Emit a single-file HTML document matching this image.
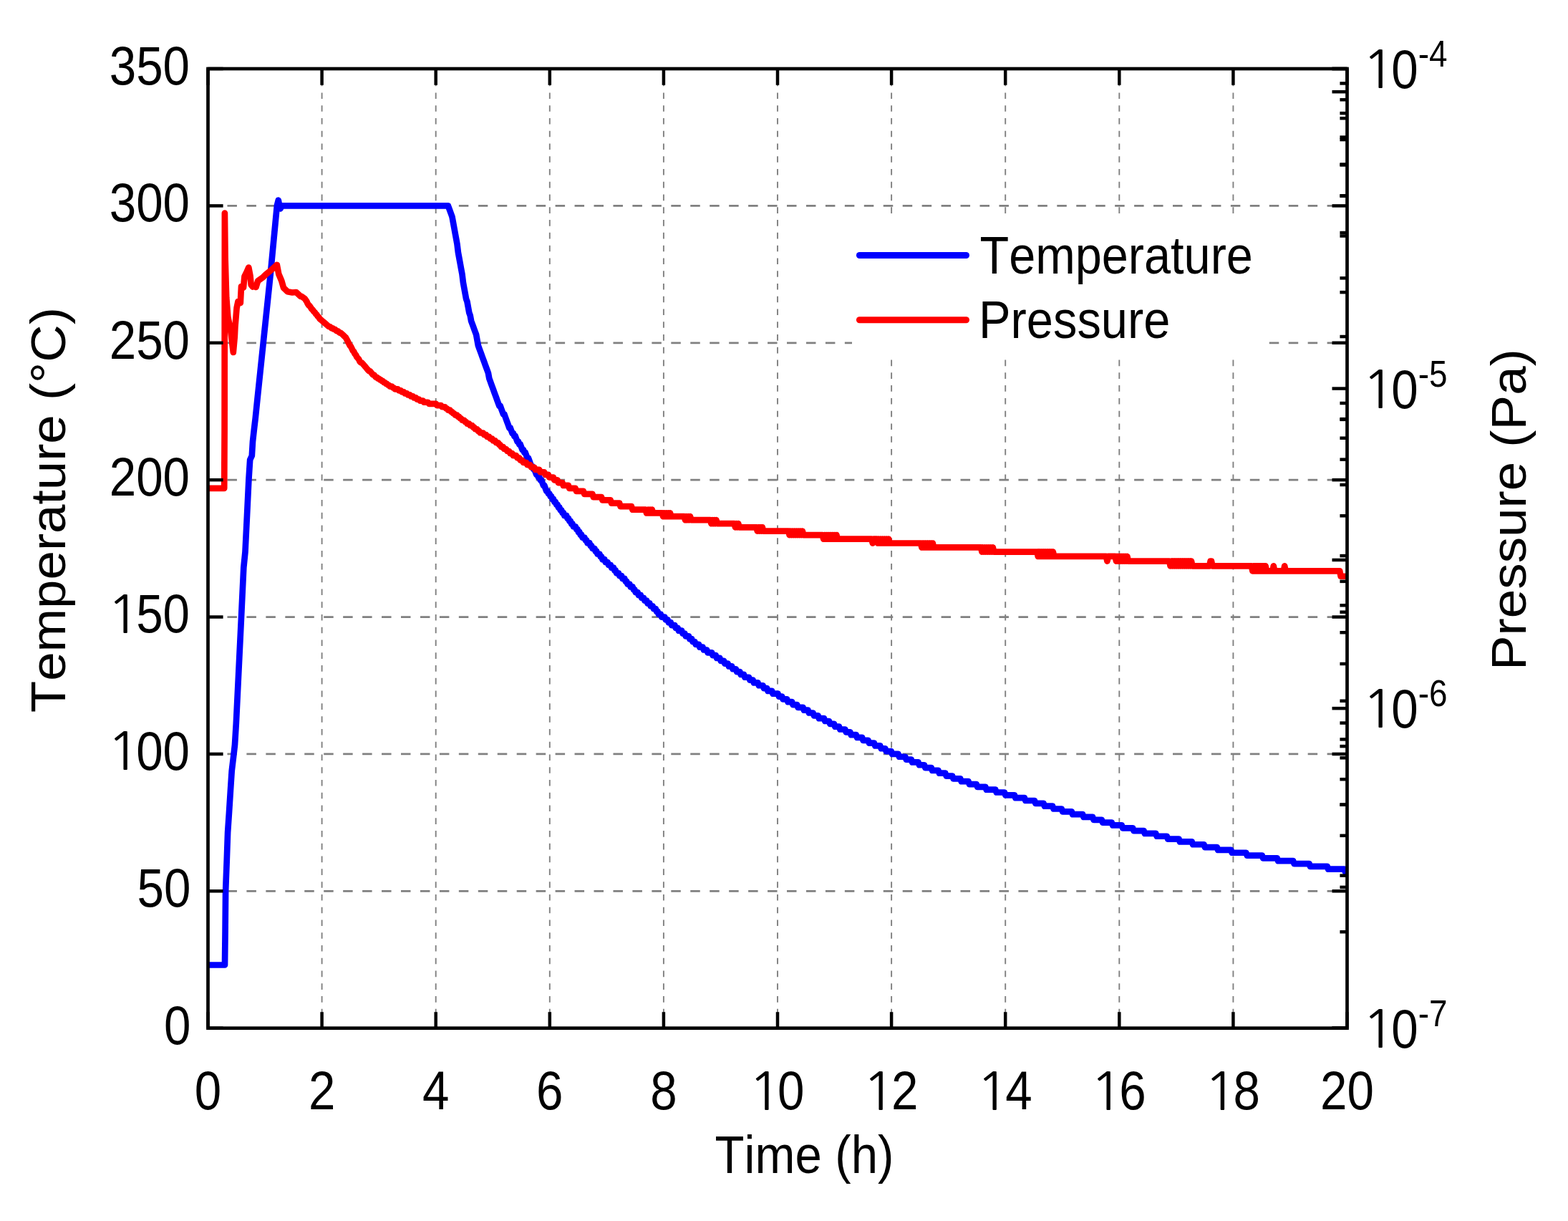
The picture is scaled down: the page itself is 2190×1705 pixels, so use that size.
<!DOCTYPE html>
<html><head><meta charset="utf-8"><title>Temperature and Pressure vs Time</title>
<style>html,body{margin:0;padding:0;background:#fff;width:2190px;height:1705px;overflow:hidden}svg{display:block}</style>
</head><body><svg width="2190" height="1705" viewBox="0 0 2190 1705"><g stroke="#808080" stroke-width="2.75" stroke-dasharray="13.5 13.45" fill="none"><line x1="290.5" y1="1244.31" x2="1881.5" y2="1244.31"/><line x1="290.5" y1="1052.93" x2="1881.5" y2="1052.93"/><line x1="290.5" y1="861.54" x2="1881.5" y2="861.54"/><line x1="290.5" y1="670.16" x2="1881.5" y2="670.16"/><line x1="290.5" y1="478.77" x2="1881.5" y2="478.77"/><line x1="290.5" y1="287.39" x2="1881.5" y2="287.39"/></g><g stroke="#808080" stroke-width="1.9" stroke-dasharray="8.6 9.17" stroke-dashoffset="2.14" fill="none"><line x1="449.6" y1="96" x2="449.6" y2="1435.7"/><line x1="608.7" y1="96" x2="608.7" y2="1435.7"/><line x1="767.8" y1="96" x2="767.8" y2="1435.7"/><line x1="926.9" y1="96" x2="926.9" y2="1435.7"/><line x1="1086" y1="96" x2="1086" y2="1435.7"/><line x1="1245.1" y1="96" x2="1245.1" y2="1435.7"/><line x1="1404.2" y1="96" x2="1404.2" y2="1435.7"/><line x1="1563.3" y1="96" x2="1563.3" y2="1435.7"/><line x1="1722.4" y1="96" x2="1722.4" y2="1435.7"/></g><rect x="1190" y="301" width="576" height="197" fill="#fff"/><defs><clipPath id="pc"><rect x="290.5" y="86" width="1591" height="1349.7"/></clipPath></defs><g clip-path="url(#pc)" fill="none" stroke-width="8.7" stroke-linejoin="round" stroke-linecap="round"><polyline stroke="#0000ff" points="283,1347.5 314,1347.5 314.6,1300 315.1,1244.7 316.8,1200 318.1,1162.4 320,1134.2 321.8,1105.9 323.7,1076.7 326.5,1053.2 328,1040 329.8,1010.4 337,862.2 340.3,792.5 342.5,770.7 345,720 347.4,670 349.2,642 351.8,636.5 353,616.4 354.9,599.5 356.8,583.5 359.2,560 367.7,479 377.8,382.5 386.9,287 388.8,279.6 390.3,287.5 391.6,291.3 393.5,287.4 624.5,287.39 625.9,287.39 627.3,291.21 628.7,295.04 630.1,298.87 631.5,302.7 632.9,310.35 634.3,318.01 635.7,325.66 637.1,333.32 638.5,340.97 639.9,352.46 641.3,360.11 642.7,367.77 644.1,375.42 645.5,383.08 646.9,394.56 648.3,402.22 649.7,409.87 651.1,417.53 652.5,421.36 653.9,429.01 655.3,436.67 656.7,440.49 658.1,448.15 659.5,451.98 660.9,455.81 662.3,459.63 663.7,463.46 665.1,467.29 666.5,474.94 667.9,482.6 669.3,486.43 670.7,490.25 672.1,494.08 673.5,497.91 674.9,501.74 676.3,505.57 677.7,509.39 679.1,513.22 680.5,517.05 681.9,520.88 683.3,528.53 684.7,532.36 686.1,536.19 687.5,540.01 688.9,543.84 690.3,547.67 691.7,551.5 693.1,555.33 694.5,559.15 695.9,562.98 697.3,566.81 698.7,566.81 700.1,570.64 701.5,574.46 702.9,578.29 704.3,578.29 705.7,582.12 707.1,585.95 708.5,589.78 709.9,593.6 711.3,597.43 712.7,597.43 714.1,601.26 715.5,605.09 716.9,605.09 718.3,608.91 719.7,608.91 721.1,612.74 722.5,616.57 723.9,616.57 725.3,620.4 726.7,620.4 728.1,624.22 729.5,628.05 730.9,628.05 732.3,631.88 733.7,631.88 735.1,635.71 736.5,639.54 737.9,639.54 739.3,643.36 740.7,647.19 742.1,651.02 743.5,651.02 744.9,654.85 746.3,654.85 747.7,658.67 749.1,662.5 750.5,662.5 751.9,666.33 753.3,666.33 754.7,670.16 756.1,670.16 757.5,673.98 758.9,677.81 760.3,677.81 761.7,681.64 763.1,685.47 764.5,685.47 765.9,689.3 767.3,689.3 768.7,693.12 770.1,693.12 771.5,696.95 772.9,696.95 774.3,700.78 775.7,700.78 777.1,704.61 778.5,704.61 779.9,708.43 781.3,708.43 782.7,712.26 784.1,712.26 785.5,716.09 786.9,716.09 788.3,719.92 789.7,719.92 791.1,719.92 792.5,723.75 793.9,723.75 795.3,727.57 796.7,727.57 798.1,731.4 799.5,731.4 800.9,735.23 802.3,735.23 803.7,735.23 805.1,739.06 806.5,739.06 807.9,742.88 809.3,742.88 810.7,746.71 812.1,746.71 813.5,750.54 814.9,750.54 816.3,750.54 817.7,754.37 819.1,754.37 820.5,758.19 821.9,758.19 823.3,758.19 824.7,762.02 826.1,762.02 827.5,765.85 828.9,765.85 830.3,765.85 831.7,769.68 833.1,769.68 834.5,773.51 835.9,773.51 837.3,773.51 838.7,777.33 840.1,777.33 841.5,781.16 842.9,781.16 844.3,781.16 845.7,784.99 847.1,784.99 848.5,784.99 849.9,788.82 851.3,788.82 852.7,788.82 854.1,792.64 855.5,792.64 856.9,792.64 858.3,796.47 859.7,796.47 861.1,800.3 862.5,800.3 863.9,800.3 865.3,804.13 866.7,804.13 868.1,804.13 869.5,807.95 870.9,807.95 872.3,807.95 873.7,811.78 875.1,811.78 876.5,815.61 877.9,815.61 879.3,815.61 880.7,819.44 882.1,819.44 883.5,819.44 884.9,823.27 886.3,823.27 887.7,827.09 889.1,827.09 890.5,827.09 891.9,830.92 893.3,830.92 894.7,830.92 896.1,834.75 897.5,834.75 898.9,834.75 900.3,838.58 901.7,838.58 903.1,838.58 904.5,842.4 905.9,842.4 907.3,842.4 908.7,846.23 910.1,846.23 911.5,846.23 912.9,850.06 914.3,850.06 915.7,850.06 917.1,853.89 918.5,853.89 919.9,857.72 921.3,857.72 922.7,857.72 924.1,861.54 925.5,861.54 926.9,861.54 928.3,861.54 929.7,865.37 931.1,865.37 932.5,865.37 933.9,869.2 935.3,869.2 936.7,869.2 938.1,873.03 939.5,873.03 940.9,873.03 942.3,873.03 943.7,876.85 945.1,876.85 946.5,876.85 947.9,880.68 949.3,880.68 950.7,880.68 952.1,880.68 953.5,884.51 954.9,884.51 956.3,884.51 957.7,888.34 959.1,888.34 960.5,888.34 961.9,888.34 963.3,892.16 964.7,892.16 966.1,892.16 967.5,895.99 968.9,895.99 970.3,895.99 971.7,899.82 973.1,899.82 974.5,899.82 975.9,899.82 977.3,903.65 978.7,903.65 980.1,903.65 981.5,903.65 982.9,907.48 984.3,907.48 985.7,907.48 987.1,907.48 988.5,911.3 989.9,911.3 991.3,911.3 992.7,911.3 994.1,911.3 995.5,915.13 996.9,915.13 998.3,915.13 999.7,915.13 1001.1,918.96 1002.5,918.96 1003.9,918.96 1005.3,918.96 1006.7,922.79 1008.1,922.79 1009.5,922.79 1010.9,922.79 1012.3,926.61 1013.7,926.61 1015.1,926.61 1016.5,926.61 1017.9,930.44 1019.3,930.44 1020.7,930.44 1022.1,930.44 1023.5,934.27 1024.9,934.27 1026.3,934.27 1027.7,934.27 1029.1,938.1 1030.5,938.1 1031.9,938.1 1033.3,938.1 1034.7,941.92 1036.1,941.92 1037.5,941.92 1038.9,941.92 1040.3,945.75 1041.7,945.75 1043.1,945.75 1044.5,945.75 1045.9,945.75 1047.3,949.58 1048.7,949.58 1050.1,949.58 1051.5,949.58 1052.9,953.41 1054.3,953.41 1055.7,953.41 1057.1,953.41 1058.5,953.41 1059.9,957.24 1061.3,957.24 1062.7,957.24 1064.1,957.24 1065.5,957.24 1066.9,961.06 1068.3,961.06 1069.7,961.06 1071.1,961.06 1072.5,964.89 1073.9,964.89 1075.3,964.89 1076.7,964.89 1078.1,964.89 1079.5,968.72 1080.9,968.72 1082.3,968.72 1083.7,968.72 1085.1,968.72 1086.5,968.72 1087.9,972.55 1089.3,972.55 1090.7,972.55 1092.1,972.55 1093.5,976.37 1094.9,976.37 1096.3,976.37 1097.7,976.37 1099.1,976.37 1100.5,980.2 1101.9,980.2 1103.3,980.2 1104.7,980.2 1106.1,980.2 1107.5,984.03 1108.9,984.03 1110.3,984.03 1111.7,984.03 1113.1,984.03 1114.5,987.86 1115.9,987.86 1117.3,987.86 1118.7,987.86 1120.1,987.86 1121.5,987.86 1122.9,991.69 1124.3,991.69 1125.7,991.69 1127.1,991.69 1128.5,991.69 1129.9,995.51 1131.3,995.51 1132.7,995.51 1134.1,995.51 1135.5,995.51 1136.9,999.34 1138.3,999.34 1139.7,999.34 1141.1,999.34 1142.5,999.34 1143.9,1003.17 1145.3,1003.17 1146.7,1003.17 1148.1,1003.17 1149.5,1003.17 1150.9,1003.17 1152.3,1007 1153.7,1007 1155.1,1007 1156.5,1007 1157.9,1007 1159.3,1010.82 1160.7,1010.82 1162.1,1010.82 1163.5,1010.82 1164.9,1010.82 1166.3,1014.65 1167.7,1014.65 1169.1,1014.65 1170.5,1014.65 1171.9,1014.65 1173.3,1018.48 1174.7,1018.48 1176.1,1018.48 1177.5,1018.48 1178.9,1018.48 1180.3,1018.48 1181.7,1022.31 1183.1,1022.31 1184.5,1022.31 1185.9,1022.31 1187.3,1022.31 1188.7,1026.13 1190.1,1026.13 1191.5,1026.13 1192.9,1026.13 1194.3,1026.13 1195.7,1026.13 1197.1,1029.96 1198.5,1029.96 1199.9,1029.96 1201.3,1029.96 1202.7,1029.96 1204.1,1029.96 1205.5,1033.79 1206.9,1033.79 1208.3,1033.79 1209.7,1033.79 1211.1,1033.79 1212.5,1033.79 1213.9,1037.62 1215.3,1037.62 1216.7,1037.62 1218.1,1037.62 1219.5,1037.62 1220.9,1037.62 1222.3,1041.45 1223.7,1041.45 1225.1,1041.45 1226.5,1041.45 1227.9,1041.45 1229.3,1041.45 1230.7,1045.27 1232.1,1045.27 1233.5,1045.27 1234.9,1045.27 1236.3,1045.27 1237.7,1049.1 1239.1,1049.1 1240.5,1049.1 1241.9,1049.1 1243.3,1049.1 1244.7,1049.1 1246.1,1052.93 1247.5,1052.93 1248.9,1052.93 1250.3,1052.93 1251.7,1052.93 1253.1,1052.93 1254.5,1052.93 1255.9,1056.76 1257.3,1056.76 1258.7,1056.76 1260.1,1056.76 1261.5,1056.76 1262.9,1056.76 1264.3,1056.76 1265.7,1060.58 1267.1,1060.58 1268.5,1060.58 1269.9,1060.58 1271.3,1060.58 1272.7,1060.58 1274.1,1064.41 1275.5,1064.41 1276.9,1064.41 1278.3,1064.41 1279.7,1064.41 1281.1,1064.41 1282.5,1064.41 1283.9,1068.24 1285.3,1068.24 1286.7,1068.24 1288.1,1068.24 1289.5,1068.24 1290.9,1068.24 1292.3,1072.07 1293.7,1072.07 1295.1,1072.07 1296.5,1072.07 1297.9,1072.07 1299.3,1072.07 1300.7,1072.07 1302.1,1075.89 1303.5,1075.89 1304.9,1075.89 1306.3,1075.89 1307.7,1075.89 1309.1,1075.89 1310.5,1075.89 1311.9,1079.72 1313.3,1079.72 1314.7,1079.72 1316.1,1079.72 1317.5,1079.72 1318.9,1079.72 1320.3,1079.72 1321.7,1083.55 1323.1,1083.55 1324.5,1083.55 1325.9,1083.55 1327.3,1083.55 1328.7,1083.55 1330.1,1083.55 1331.5,1087.38 1332.9,1087.38 1334.3,1087.38 1335.7,1087.38 1337.1,1087.38 1338.5,1087.38 1339.9,1087.38 1341.3,1087.38 1342.7,1091.21 1344.1,1091.21 1345.5,1091.21 1346.9,1091.21 1348.3,1091.21 1349.7,1091.21 1351.1,1091.21 1352.5,1091.21 1353.9,1095.03 1355.3,1095.03 1356.7,1095.03 1358.1,1095.03 1359.5,1095.03 1360.9,1095.03 1362.3,1095.03 1363.7,1095.03 1365.1,1098.86 1366.5,1098.86 1367.9,1098.86 1369.3,1098.86 1370.7,1098.86 1372.1,1098.86 1373.5,1098.86 1374.9,1098.86 1376.3,1098.86 1377.7,1102.69 1379.1,1102.69 1380.5,1102.69 1381.9,1102.69 1383.3,1102.69 1384.7,1102.69 1386.1,1102.69 1387.5,1102.69 1388.9,1102.69 1390.3,1102.69 1391.7,1106.52 1393.1,1106.52 1394.5,1106.52 1395.9,1106.52 1397.3,1106.52 1398.7,1106.52 1400.1,1106.52 1401.5,1106.52 1402.9,1106.52 1404.3,1110.34 1405.7,1110.34 1407.1,1110.34 1408.5,1110.34 1409.9,1110.34 1411.3,1110.34 1412.7,1110.34 1414.1,1110.34 1415.5,1110.34 1416.9,1110.34 1418.3,1114.17 1419.7,1114.17 1421.1,1114.17 1422.5,1114.17 1423.9,1114.17 1425.3,1114.17 1426.7,1114.17 1428.1,1114.17 1429.5,1114.17 1430.9,1114.17 1432.3,1118 1433.7,1118 1435.1,1118 1436.5,1118 1437.9,1118 1439.3,1118 1440.7,1118 1442.1,1118 1443.5,1118 1444.9,1118 1446.3,1121.83 1447.7,1121.83 1449.1,1121.83 1450.5,1121.83 1451.9,1121.83 1453.3,1121.83 1454.7,1121.83 1456.1,1121.83 1457.5,1121.83 1458.9,1125.66 1460.3,1125.66 1461.7,1125.66 1463.1,1125.66 1464.5,1125.66 1465.9,1125.66 1467.3,1125.66 1468.7,1125.66 1470.1,1125.66 1471.5,1129.48 1472.9,1129.48 1474.3,1129.48 1475.7,1129.48 1477.1,1129.48 1478.5,1129.48 1479.9,1129.48 1481.3,1129.48 1482.7,1129.48 1484.1,1133.31 1485.5,1133.31 1486.9,1133.31 1488.3,1133.31 1489.7,1133.31 1491.1,1133.31 1492.5,1133.31 1493.9,1133.31 1495.3,1133.31 1496.7,1133.31 1498.1,1137.14 1499.5,1137.14 1500.9,1137.14 1502.3,1137.14 1503.7,1137.14 1505.1,1137.14 1506.5,1137.14 1507.9,1137.14 1509.3,1137.14 1510.7,1137.14 1512.1,1137.14 1513.5,1140.97 1514.9,1140.97 1516.3,1140.97 1517.7,1140.97 1519.1,1140.97 1520.5,1140.97 1521.9,1140.97 1523.3,1140.97 1524.7,1140.97 1526.1,1140.97 1527.5,1144.79 1528.9,1144.79 1530.3,1144.79 1531.7,1144.79 1533.1,1144.79 1534.5,1144.79 1535.9,1144.79 1537.3,1144.79 1538.7,1144.79 1540.1,1148.62 1541.5,1148.62 1542.9,1148.62 1544.3,1148.62 1545.7,1148.62 1547.1,1148.62 1548.5,1148.62 1549.9,1148.62 1551.3,1148.62 1552.7,1148.62 1554.1,1152.45 1555.5,1152.45 1556.9,1152.45 1558.3,1152.45 1559.7,1152.45 1561.1,1152.45 1562.5,1152.45 1563.9,1152.45 1565.3,1152.45 1566.7,1152.45 1568.1,1156.28 1569.5,1156.28 1570.9,1156.28 1572.3,1156.28 1573.7,1156.28 1575.1,1156.28 1576.5,1156.28 1577.9,1156.28 1579.3,1156.28 1580.7,1156.28 1582.1,1156.28 1583.5,1160.1 1584.9,1160.1 1586.3,1160.1 1587.7,1160.1 1589.1,1160.1 1590.5,1160.1 1591.9,1160.1 1593.3,1160.1 1594.7,1160.1 1596.1,1160.1 1597.5,1160.1 1598.9,1163.93 1600.3,1163.93 1601.7,1163.93 1603.1,1163.93 1604.5,1163.93 1605.9,1163.93 1607.3,1163.93 1608.7,1163.93 1610.1,1163.93 1611.5,1163.93 1612.9,1163.93 1614.3,1163.93 1615.7,1167.76 1617.1,1167.76 1618.5,1167.76 1619.9,1167.76 1621.3,1167.76 1622.7,1167.76 1624.1,1167.76 1625.5,1167.76 1626.9,1167.76 1628.3,1167.76 1629.7,1167.76 1631.1,1171.59 1632.5,1171.59 1633.9,1171.59 1635.3,1171.59 1636.7,1171.59 1638.1,1171.59 1639.5,1171.59 1640.9,1171.59 1642.3,1171.59 1643.7,1171.59 1645.1,1171.59 1646.5,1171.59 1647.9,1175.42 1649.3,1175.42 1650.7,1175.42 1652.1,1175.42 1653.5,1175.42 1654.9,1175.42 1656.3,1175.42 1657.7,1175.42 1659.1,1175.42 1660.5,1175.42 1661.9,1175.42 1663.3,1175.42 1664.7,1175.42 1666.1,1179.24 1667.5,1179.24 1668.9,1179.24 1670.3,1179.24 1671.7,1179.24 1673.1,1179.24 1674.5,1179.24 1675.9,1179.24 1677.3,1179.24 1678.7,1179.24 1680.1,1179.24 1681.5,1179.24 1682.9,1183.07 1684.3,1183.07 1685.7,1183.07 1687.1,1183.07 1688.5,1183.07 1689.9,1183.07 1691.3,1183.07 1692.7,1183.07 1694.1,1183.07 1695.5,1183.07 1696.9,1183.07 1698.3,1183.07 1699.7,1183.07 1701.1,1186.9 1702.5,1186.9 1703.9,1186.9 1705.3,1186.9 1706.7,1186.9 1708.1,1186.9 1709.5,1186.9 1710.9,1186.9 1712.3,1186.9 1713.7,1186.9 1715.1,1186.9 1716.5,1186.9 1717.9,1186.9 1719.3,1186.9 1720.7,1190.73 1722.1,1190.73 1723.5,1190.73 1724.9,1190.73 1726.3,1190.73 1727.7,1190.73 1729.1,1190.73 1730.5,1190.73 1731.9,1190.73 1733.3,1190.73 1734.7,1190.73 1736.1,1190.73 1737.5,1190.73 1738.9,1190.73 1740.3,1190.73 1741.7,1194.55 1743.1,1194.55 1744.5,1194.55 1745.9,1194.55 1747.3,1194.55 1748.7,1194.55 1750.1,1194.55 1751.5,1194.55 1752.9,1194.55 1754.3,1194.55 1755.7,1194.55 1757.1,1194.55 1758.5,1194.55 1759.9,1194.55 1761.3,1194.55 1762.7,1194.55 1764.1,1198.38 1765.5,1198.38 1766.9,1198.38 1768.3,1198.38 1769.7,1198.38 1771.1,1198.38 1772.5,1198.38 1773.9,1198.38 1775.3,1198.38 1776.7,1198.38 1778.1,1198.38 1779.5,1198.38 1780.9,1198.38 1782.3,1198.38 1783.7,1198.38 1785.1,1202.21 1786.5,1202.21 1787.9,1202.21 1789.3,1202.21 1790.7,1202.21 1792.1,1202.21 1793.5,1202.21 1794.9,1202.21 1796.3,1202.21 1797.7,1202.21 1799.1,1202.21 1800.5,1202.21 1801.9,1202.21 1803.3,1202.21 1804.7,1202.21 1806.1,1202.21 1807.5,1206.04 1808.9,1206.04 1810.3,1206.04 1811.7,1206.04 1813.1,1206.04 1814.5,1206.04 1815.9,1206.04 1817.3,1206.04 1818.7,1206.04 1820.1,1206.04 1821.5,1206.04 1822.9,1206.04 1824.3,1206.04 1825.7,1206.04 1827.1,1206.04 1828.5,1206.04 1829.9,1209.86 1831.3,1209.86 1832.7,1209.86 1834.1,1209.86 1835.5,1209.86 1836.9,1209.86 1838.3,1209.86 1839.7,1209.86 1841.1,1209.86 1842.5,1209.86 1843.9,1209.86 1845.3,1209.86 1846.7,1209.86 1848.1,1209.86 1849.5,1209.86 1850.9,1209.86 1852.3,1209.86 1853.7,1209.86 1855.1,1213.69 1856.5,1213.69 1857.9,1213.69 1859.3,1213.69 1860.7,1213.69 1862.1,1213.69 1863.5,1213.69 1864.9,1213.69 1866.3,1213.69 1867.7,1213.69 1869.1,1213.69 1870.5,1213.69 1871.9,1213.69 1873.3,1213.69 1874.7,1213.69 1876.1,1213.69 1877.5,1213.69 1878.9,1217.52 1880.3,1217.52 1881.7,1217.52 1883.1,1217.52"/><polyline stroke="#ff0000" points="283,681.8 313.2,681.8 313.6,600 313.9,297.5 314.6,360 316.2,415.3 318.3,442.3 322.3,462.6 325.8,492 327.8,470 328.4,457 330.6,430 332.5,421 335.8,423 337,400 340,401.5 341.5,386 344.5,380 347.3,373.5 349.5,385 350.7,397.7 353,400.5 355.5,399.5 357.5,401 360.2,392.3 367.6,386.9 371.7,382.8 378.5,377.4 386.8,369.8 389.3,382.8 393.3,392.3 396,401.8 401.5,407.2 408.2,408.5 413.6,408 420,413.95 421.4,413.95 422.8,414.95 424.2,415.95 425.6,416.96 427,418.99 428.4,421.04 429.8,424.16 431.2,426.27 432.6,427.33 434,429.47 435.4,431.64 436.8,432.73 438.2,434.94 439.6,436.05 441,438.29 442.4,439.42 443.8,441.7 445.2,442.85 446.6,445.18 448,446.35 449.4,447.53 450.8,448.71 452.2,449.91 453.6,451.11 455,452.32 456.4,453.53 457.8,454.76 459.2,455.99 460.6,455.99 462,457.23 463.4,458.47 464.8,458.47 466.2,459.73 467.6,459.73 469,460.99 470.4,462.26 471.8,462.26 473.2,463.54 474.6,464.83 476,464.83 477.4,466.13 478.8,467.44 480.2,468.75 481.6,470.07 483,471.41 484.4,474.1 485.8,476.83 487.2,479.6 488.6,482.41 490,483.84 491.4,486.71 492.8,489.63 494.2,491.1 495.6,494.08 497,495.59 498.4,498.65 499.8,500.19 501.2,501.75 502.6,504.9 504,506.5 505.4,506.5 506.8,508.11 508.2,509.73 509.6,511.37 511,513.02 512.4,514.68 513.8,516.36 515.2,518.06 516.6,518.06 518,519.77 519.4,521.49 520.8,523.23 522.2,523.23 523.6,524.99 525,526.76 526.4,526.76 527.8,528.54 529.2,528.54 530.6,530.35 532,530.35 533.4,532.17 534.8,532.17 536.2,534.01 537.6,534.01 539,535.86 540.4,535.86 541.8,537.74 543.2,537.74 544.6,539.63 546,539.63 547.4,539.63 548.8,541.54 550.2,541.54 551.6,543.47 553,543.47 554.4,543.47 555.8,543.47 557.2,545.42 558.6,545.42 560,545.42 561.4,547.39 562.8,547.39 564.2,547.39 565.6,549.38 567,549.38 568.4,549.38 569.8,551.39 571.2,551.39 572.6,551.39 574,553.42 575.4,553.42 576.8,553.42 578.2,555.47 579.6,555.47 581,555.47 582.4,557.54 583.8,557.54 585.2,557.54 586.6,559.64 588,559.64 589.4,559.64 590.8,559.64 592.2,561.76 593.6,561.76 595,561.76 596.4,561.76 597.8,561.76 599.2,563.9 600.6,563.9 602,563.9 603.4,563.9 604.8,563.9 606.2,563.9 607.6,563.9 609,563.9 610.4,566.07 611.8,566.07 613.2,566.07 614.6,566.07 616,566.07 617.4,568.26 618.8,568.26 620.2,568.26 621.6,568.26 623,570.48 624.4,570.48 625.8,572.72 627.2,572.72 628.6,572.72 630,574.99 631.4,574.99 632.8,577.28 634.2,577.28 635.6,579.61 637,579.61 638.4,579.61 639.8,581.96 641.2,581.96 642.6,584.34 644,584.34 645.4,586.75 646.8,586.75 648.2,586.75 649.6,589.19 651,589.19 652.4,591.66 653.8,591.66 655.2,591.66 656.6,594.16 658,594.16 659.4,594.16 660.8,596.7 662.2,596.7 663.6,599.26 665,599.26 666.4,599.26 667.8,601.87 669.2,601.87 670.6,604.51 672,604.51 673.4,604.51 674.8,604.51 676.2,607.18 677.6,607.18 679,607.18 680.4,609.89 681.8,609.89 683.2,609.89 684.6,612.64 686,612.64 687.4,612.64 688.8,615.44 690.2,615.44 691.6,615.44 693,618.27 694.4,618.27 695.8,618.27 697.2,621.14 698.6,621.14 700,624.06 701.4,624.06 702.8,624.06 704.2,627.02 705.6,627.02 707,627.02 708.4,630.02 709.8,630.02 711.2,630.02 712.6,633.08 714,633.08 715.4,633.08 716.8,636.18 718.2,636.18 719.6,636.18 721,636.18 722.4,639.34 723.8,639.34 725.2,639.34 726.6,642.54 728,642.54 729.4,642.54 730.8,645.8 732.2,645.8 733.6,645.8 735,645.8 736.4,649.12 737.8,649.12 739.2,649.12 740.6,649.12 742,652.49 743.4,652.49 744.8,652.49 746.2,652.49 747.6,655.92 749,655.92 750.4,655.92 751.8,655.92 753.2,655.92 754.6,659.42 756,659.42 757.4,659.42 758.8,659.42 760.2,659.42 761.6,662.97 763,662.97 764.4,662.97 765.8,662.97 767.2,666.6 768.6,666.6 770,666.6 771.4,666.6 772.8,666.6 774.2,670.29 775.6,670.29 777,670.29 778.4,670.29 779.8,674.06 781.2,674.06 782.6,674.06 784,674.06 785.4,674.06 786.8,677.9 788.2,677.9 789.6,677.9 791,677.9 792.4,677.9 793.8,677.9 795.2,681.82 796.6,681.82 798,681.82 799.4,681.82 800.8,681.82 802.2,681.82 803.6,681.82 805,685.82 806.4,685.82 807.8,685.82 809.2,685.82 810.6,685.82 812,685.82 813.4,685.82 814.8,685.82 816.2,689.9 817.6,689.9 819,689.9 820.4,689.9 821.8,689.9 823.2,689.9 824.6,689.9 826,689.9 827.4,689.9 828.8,694.07 830.2,694.07 831.6,694.07 833,694.07 834.4,694.07 835.8,694.07 837.2,694.07 838.6,694.07 840,694.07 841.4,698.33 842.8,698.33 844.2,698.33 845.6,698.33 847,698.33 848.4,698.33 849.8,698.33 851.2,698.33 852.6,698.33 854,702.69 855.4,702.69 856.8,702.69 858.2,702.69 859.6,702.69 861,702.69 862.4,702.69 863.8,702.69 865.2,702.69 866.6,707.15 868,707.15 869.4,707.15 870.8,707.15 872.2,707.15 873.6,707.15 875,707.15 876.4,707.15 877.8,707.15 879.2,707.15 880.6,707.15 882,707.15 883.4,711.72 884.8,711.72 886.2,711.72 887.6,711.72 889,711.72 890.4,711.72 891.8,711.72 893.2,711.72 894.6,711.72 896,711.72 897.4,711.72 898.8,711.72 900.2,711.72 901.6,711.72 903,716.39 903.8,716.39 905.2,711.72 906.6,716.39 908,711.72 909.4,716.39 910.8,711.72 912.2,716.39 913.6,716.39 915,716.39 916.4,716.39 917.8,716.39 919.2,716.39 920.6,716.39 922,716.39 923.4,716.39 924.8,716.39 926.2,721.18 927.6,716.39 929,721.18 930.4,716.39 931.8,721.18 933.2,716.39 934.6,721.18 936,716.39 937.4,721.18 938.8,721.18 940.2,721.18 941.6,721.18 943,721.18 944.4,721.18 945.8,721.18 947.2,721.18 948.6,721.18 950,721.18 951.4,721.18 952.8,721.18 954.2,721.18 955.6,721.18 957,726.09 958.4,721.18 959.8,726.09 961.2,721.18 962.6,726.09 964,721.18 965.4,726.09 966.8,726.09 968.2,726.09 969.6,726.09 971,726.09 972.4,726.09 973.8,726.09 975.2,726.09 976.6,726.09 978,726.09 979.4,726.09 980.8,726.09 982.2,726.09 983.6,726.09 985,726.09 986.4,726.09 987.8,726.09 989.2,726.09 990.6,726.09 992,726.09 993.4,731.13 994.8,726.09 996.2,731.13 997.6,726.09 999,731.13 1000.4,726.09 1001.8,731.13 1003.2,731.13 1004.6,731.13 1006,731.13 1007.4,731.13 1008.8,731.13 1010.2,731.13 1011.6,731.13 1013,731.13 1014.4,731.13 1015.8,731.13 1017.2,731.13 1018.6,731.13 1020,731.13 1021.4,731.13 1022.8,731.13 1024.2,731.13 1025.6,731.13 1027,736.3 1028.4,731.13 1029.8,736.3 1031.2,731.13 1032.6,736.3 1034,736.3 1035.4,736.3 1036.8,736.3 1038.2,736.3 1039.6,736.3 1041,736.3 1042.4,736.3 1043.8,736.3 1045.2,736.3 1046.6,736.3 1048,736.3 1049.4,736.3 1050.8,736.3 1052.2,736.3 1053.6,736.3 1055,736.3 1056.4,736.3 1057.8,741.61 1059.2,736.3 1060.6,741.61 1062,736.3 1063.4,741.61 1064.8,736.3 1066.2,741.61 1067.6,741.61 1069,741.61 1070.4,741.61 1071.8,741.61 1073.2,741.61 1074.6,741.61 1076,741.61 1077.4,741.61 1078.8,741.61 1080.2,741.61 1081.6,741.61 1083,741.61 1084.4,741.61 1085.8,741.61 1087.2,741.61 1088.6,741.61 1090,741.61 1091.4,741.61 1092.8,741.61 1094.2,741.61 1095.6,741.61 1097,741.61 1098.4,741.61 1099.8,741.61 1101.2,741.61 1102.6,747.08 1104,741.61 1105.4,747.08 1106.8,741.61 1108.2,747.08 1109.6,741.61 1111,747.08 1112.4,741.61 1113.8,747.08 1115.2,741.61 1116.6,747.08 1118,741.61 1119.4,747.08 1120.8,741.61 1122.2,747.08 1123.6,747.08 1125,747.08 1126.4,747.08 1127.8,747.08 1129.2,747.08 1130.6,747.08 1132,747.08 1133.4,747.08 1134.8,747.08 1136.2,747.08 1137.6,747.08 1139,747.08 1140.4,747.08 1141.8,747.08 1143.2,747.08 1144.6,747.08 1146,747.08 1147.4,747.08 1148.8,747.08 1150.2,752.7 1151.6,747.08 1153,752.7 1154.4,747.08 1155.8,752.7 1157.2,747.08 1158.6,752.7 1160,747.08 1161.4,752.7 1162.8,747.08 1164.2,752.7 1165.6,747.08 1167,752.7 1168.4,747.08 1169.8,752.7 1171.2,752.7 1172.6,752.7 1174,752.7 1175.4,752.7 1176.8,752.7 1178.2,752.7 1179.6,752.7 1181,752.7 1182.4,752.7 1183.8,752.7 1185.2,752.7 1186.6,752.7 1188,752.7 1189.4,752.7 1190.8,752.7 1192.2,752.7 1193.6,752.7 1195,752.7 1196.4,752.7 1197.8,752.7 1199.2,752.7 1200.6,752.7 1202,752.7 1203.4,752.7 1204.8,752.7 1206.2,752.7 1207.6,752.7 1209,752.7 1210.4,752.7 1211.8,752.7 1213.2,752.7 1214.6,752.7 1216,752.7 1217.4,752.7 1218.8,758.49 1220.2,752.7 1221.6,752.7 1223,752.7 1224.4,752.7 1225.8,758.49 1227.2,752.7 1228.6,758.49 1230,752.7 1231.4,758.49 1232.8,752.7 1234.2,758.49 1235.6,752.7 1237,758.49 1238.4,752.7 1239.8,758.49 1241.2,752.7 1242.6,758.49 1244,758.49 1245.4,758.49 1246.8,758.49 1248.2,758.49 1249.6,758.49 1251,758.49 1252.4,758.49 1253.8,758.49 1255.2,758.49 1256.6,758.49 1258,758.49 1259.4,758.49 1260.8,758.49 1262.2,758.49 1263.6,758.49 1265,758.49 1266.4,758.49 1267.8,758.49 1269.2,758.49 1270.6,758.49 1272,758.49 1273.4,758.49 1274.8,758.49 1276.2,758.49 1277.6,758.49 1279,758.49 1280.4,758.49 1281.8,758.49 1283.2,758.49 1284.6,758.49 1286,758.49 1287.4,764.46 1288.8,758.49 1290.2,764.46 1291.6,758.49 1293,764.46 1294.4,758.49 1295.8,764.46 1297.2,758.49 1298.6,764.46 1300,758.49 1301.4,764.46 1302.8,758.49 1304.2,764.46 1305.6,764.46 1307,764.46 1308.4,764.46 1309.8,764.46 1311.2,764.46 1312.6,764.46 1314,764.46 1315.4,764.46 1316.8,764.46 1318.2,764.46 1319.6,764.46 1321,764.46 1322.4,764.46 1323.8,764.46 1325.2,764.46 1326.6,764.46 1328,764.46 1329.4,764.46 1330.8,764.46 1332.2,764.46 1333.6,764.46 1335,764.46 1336.4,764.46 1337.8,764.46 1339.2,764.46 1340.6,764.46 1342,764.46 1343.4,764.46 1344.8,764.46 1346.2,764.46 1347.6,764.46 1349,764.46 1350.4,764.46 1351.8,764.46 1353.2,764.46 1354.6,764.46 1356,764.46 1357.4,764.46 1358.8,764.46 1360.2,764.46 1361.6,764.46 1363,764.46 1364.4,764.46 1365.8,764.46 1367.2,764.46 1368.6,764.46 1370,764.46 1371.4,770.61 1372.8,764.46 1374.2,770.61 1375.6,764.46 1377,770.61 1378.4,764.46 1379.8,770.61 1381.2,764.46 1382.6,770.61 1384,764.46 1385.4,770.61 1386.8,764.46 1388.2,770.61 1389.6,770.61 1391,770.61 1392.4,770.61 1393.8,770.61 1395.2,770.61 1396.6,770.61 1398,770.61 1399.4,770.61 1400.8,770.61 1402.2,770.61 1403.6,770.61 1405,770.61 1406.4,770.61 1407.8,770.61 1409.2,770.61 1410.6,770.61 1412,770.61 1413.4,770.61 1414.8,770.61 1416.2,770.61 1417.6,770.61 1419,770.61 1420.4,770.61 1421.8,770.61 1423.2,770.61 1424.6,770.61 1426,770.61 1427.4,770.61 1428.8,770.61 1430.2,770.61 1431.6,770.61 1433,770.61 1434.4,770.61 1435.8,770.61 1437.2,770.61 1438.6,770.61 1440,770.61 1441.4,770.61 1442.8,770.61 1444.2,770.61 1445.6,770.61 1447,770.61 1448.4,770.61 1449.8,776.97 1451.2,770.61 1452.6,776.97 1454,770.61 1455.4,776.97 1456.8,770.61 1458.2,776.97 1459.6,770.61 1461,776.97 1462.4,770.61 1463.8,776.97 1465.2,770.61 1466.6,776.97 1468,770.61 1469.4,776.97 1470.8,770.61 1472.2,776.97 1473.6,776.97 1475,776.97 1476.4,776.97 1477.8,776.97 1479.2,776.97 1480.6,776.97 1482,776.97 1483.4,776.97 1484.8,776.97 1486.2,776.97 1487.6,776.97 1489,776.97 1490.4,776.97 1491.8,776.97 1493.2,776.97 1494.6,776.97 1496,776.97 1497.4,776.97 1498.8,776.97 1500.2,776.97 1501.6,776.97 1503,776.97 1504.4,776.97 1505.8,776.97 1507.2,776.97 1508.6,776.97 1510,776.97 1511.4,776.97 1512.8,776.97 1514.2,776.97 1515.6,776.97 1517,776.97 1518.4,776.97 1519.8,776.97 1521.2,776.97 1522.6,776.97 1524,776.97 1525.4,776.97 1526.8,776.97 1528.2,776.97 1529.6,776.97 1531,776.97 1532.4,776.97 1533.8,776.97 1535.2,776.97 1536.6,776.97 1538,776.97 1539.4,776.97 1540.8,776.97 1542.2,776.97 1543.6,776.97 1545,776.97 1546.4,783.55 1547.8,776.97 1549.2,776.97 1550.6,776.97 1552,776.97 1553.4,776.97 1554.8,776.97 1556.2,776.97 1557.6,776.97 1559,783.55 1560.4,776.97 1561.8,783.55 1563.2,776.97 1564.6,783.55 1566,776.97 1567.4,783.55 1568.8,776.97 1570.2,783.55 1571.6,776.97 1573,783.55 1574.4,776.97 1575.8,783.55 1577.2,783.55 1578.6,783.55 1580,783.55 1581.4,783.55 1582.8,783.55 1584.2,783.55 1585.6,783.55 1587,783.55 1588.4,783.55 1589.8,783.55 1591.2,783.55 1592.6,783.55 1594,783.55 1595.4,783.55 1596.8,783.55 1598.2,783.55 1599.6,783.55 1601,783.55 1602.4,783.55 1603.8,783.55 1605.2,783.55 1606.6,783.55 1608,783.55 1609.4,783.55 1610.8,783.55 1612.2,783.55 1613.6,783.55 1615,783.55 1616.4,783.55 1617.8,783.55 1619.2,783.55 1620.6,783.55 1622,783.55 1623.4,783.55 1624.8,783.55 1626.2,783.55 1627.6,783.55 1629,783.55 1630.4,783.55 1631.8,783.55 1633.2,783.55 1634.6,790.35 1636,783.55 1637.4,790.35 1638.8,783.55 1640.2,790.35 1641.6,783.55 1643,790.35 1644.4,783.55 1645.8,790.35 1647.2,783.55 1648.6,790.35 1650,783.55 1651.4,790.35 1652.8,783.55 1654.2,790.35 1655.6,783.55 1657,790.35 1658.4,783.55 1659.8,790.35 1661.2,783.55 1662.6,790.35 1664,783.55 1665.4,790.35 1666.8,790.35 1668.2,790.35 1669.6,790.35 1671,790.35 1672.4,790.35 1673.8,790.35 1675.2,790.35 1676.6,790.35 1678,790.35 1679.4,790.35 1680.8,790.35 1682.2,790.35 1683.6,790.35 1685,790.35 1686.4,790.35 1687.8,790.35 1689.2,790.35 1690.6,783.55 1692,783.55 1693.4,790.35 1694.8,790.35 1696.2,790.35 1697.6,790.35 1699,790.35 1700.4,790.35 1701.8,790.35 1703.2,790.35 1704.6,790.35 1706,790.35 1707.4,790.35 1708.8,790.35 1710.2,790.35 1711.6,790.35 1713,790.35 1714.4,790.35 1715.8,790.35 1717.2,790.35 1718.6,790.35 1720,790.35 1721.4,790.35 1722.8,790.35 1724.2,790.35 1725.6,790.35 1727,790.35 1728.4,790.35 1729.8,790.35 1731.2,790.35 1732.6,790.35 1734,790.35 1735.4,790.35 1736.8,790.35 1738.2,790.35 1739.6,790.35 1741,790.35 1742.4,790.35 1743.8,790.35 1745.2,790.35 1746.6,790.35 1748,790.35 1749.4,797.41 1750.8,790.35 1752.2,797.41 1753.6,790.35 1755,797.41 1756.4,790.35 1757.8,797.41 1759.2,790.35 1760.6,797.41 1762,790.35 1763.4,797.41 1764.8,790.35 1766.2,797.41 1767.6,790.35 1769,797.41 1770.4,797.41 1771.8,797.41 1773.2,797.41 1774.6,797.41 1776,797.41 1777.4,797.41 1778.8,790.35 1780.2,797.41 1781.6,797.41 1783,797.41 1784.4,797.41 1785.8,797.41 1787.2,797.41 1788.6,797.41 1790,797.41 1791.4,797.41 1792.8,797.41 1794.2,790.35 1795.6,797.41 1797,797.41 1798.4,797.41 1799.8,797.41 1801.2,797.41 1802.6,797.41 1804,797.41 1805.4,797.41 1806.8,797.41 1808.2,797.41 1809.6,797.41 1811,797.41 1812.4,797.41 1813.8,797.41 1815.2,797.41 1816.6,797.41 1818,797.41 1819.4,797.41 1820.8,797.41 1822.2,797.41 1823.6,797.41 1825,797.41 1826.4,797.41 1827.8,797.41 1829.2,797.41 1830.6,797.41 1832,797.41 1833.4,797.41 1834.8,797.41 1836.2,797.41 1837.6,797.41 1839,797.41 1840.4,797.41 1841.8,797.41 1843.2,797.41 1844.6,797.41 1846,797.41 1847.4,797.41 1848.8,797.41 1850.2,797.41 1851.6,797.41 1853,797.41 1854.4,797.41 1855.8,797.41 1857.2,797.41 1858.6,797.41 1860,797.41 1861.4,797.41 1862.8,797.41 1864.2,797.41 1865.6,797.41 1867,797.41 1868.4,797.41 1869.8,797.41 1871.2,797.41 1872.6,804.73 1874,804.73 1875.4,804.73 1876.8,804.73 1878.2,804.73 1879.6,804.73 1881,804.73 1882.4,804.73 1883.8,804.73"/></g><g stroke="#000" stroke-width="4.5" fill="none"><line x1="290.5" y1="1435.7" x2="290.5" y2="1413.2"/><line x1="290.5" y1="96" x2="290.5" y2="118.8"/><line x1="449.6" y1="1435.7" x2="449.6" y2="1413.2"/><line x1="449.6" y1="96" x2="449.6" y2="118.8"/><line x1="608.7" y1="1435.7" x2="608.7" y2="1413.2"/><line x1="608.7" y1="96" x2="608.7" y2="118.8"/><line x1="767.8" y1="1435.7" x2="767.8" y2="1413.2"/><line x1="767.8" y1="96" x2="767.8" y2="118.8"/><line x1="926.9" y1="1435.7" x2="926.9" y2="1413.2"/><line x1="926.9" y1="96" x2="926.9" y2="118.8"/><line x1="1086" y1="1435.7" x2="1086" y2="1413.2"/><line x1="1086" y1="96" x2="1086" y2="118.8"/><line x1="1245.1" y1="1435.7" x2="1245.1" y2="1413.2"/><line x1="1245.1" y1="96" x2="1245.1" y2="118.8"/><line x1="1404.2" y1="1435.7" x2="1404.2" y2="1413.2"/><line x1="1404.2" y1="96" x2="1404.2" y2="118.8"/><line x1="1563.3" y1="1435.7" x2="1563.3" y2="1413.2"/><line x1="1563.3" y1="96" x2="1563.3" y2="118.8"/><line x1="1722.4" y1="1435.7" x2="1722.4" y2="1413.2"/><line x1="1722.4" y1="96" x2="1722.4" y2="118.8"/><line x1="1881.5" y1="1435.7" x2="1881.5" y2="1413.2"/><line x1="1881.5" y1="96" x2="1881.5" y2="118.8"/><line x1="290.5" y1="1435.7" x2="311.6" y2="1435.7"/><line x1="1881.5" y1="1435.7" x2="1860.5" y2="1435.7"/><line x1="290.5" y1="1244.31" x2="311.6" y2="1244.31"/><line x1="1881.5" y1="1244.31" x2="1860.5" y2="1244.31"/><line x1="290.5" y1="1052.93" x2="311.6" y2="1052.93"/><line x1="1881.5" y1="1052.93" x2="1860.5" y2="1052.93"/><line x1="290.5" y1="861.54" x2="311.6" y2="861.54"/><line x1="1881.5" y1="861.54" x2="1860.5" y2="861.54"/><line x1="290.5" y1="670.16" x2="311.6" y2="670.16"/><line x1="1881.5" y1="670.16" x2="1860.5" y2="670.16"/><line x1="290.5" y1="478.77" x2="311.6" y2="478.77"/><line x1="1881.5" y1="478.77" x2="1860.5" y2="478.77"/><line x1="290.5" y1="287.39" x2="311.6" y2="287.39"/><line x1="1881.5" y1="287.39" x2="1860.5" y2="287.39"/><line x1="290.5" y1="96" x2="311.6" y2="96"/><line x1="1881.5" y1="96" x2="1860.5" y2="96"/><line x1="1881.5" y1="96" x2="1860.5" y2="96"/><line x1="1881.5" y1="408.14" x2="1871.4" y2="408.14"/><line x1="1881.5" y1="329.5" x2="1871.4" y2="329.5"/><line x1="1881.5" y1="273.71" x2="1871.4" y2="273.71"/><line x1="1881.5" y1="230.43" x2="1871.4" y2="230.43"/><line x1="1881.5" y1="195.07" x2="1871.4" y2="195.07"/><line x1="1881.5" y1="165.17" x2="1871.4" y2="165.17"/><line x1="1881.5" y1="139.28" x2="1871.4" y2="139.28"/><line x1="1881.5" y1="116.43" x2="1871.4" y2="116.43"/><line x1="1881.5" y1="542.57" x2="1860.5" y2="542.57"/><line x1="1881.5" y1="854.71" x2="1871.4" y2="854.71"/><line x1="1881.5" y1="776.07" x2="1871.4" y2="776.07"/><line x1="1881.5" y1="720.28" x2="1871.4" y2="720.28"/><line x1="1881.5" y1="677" x2="1871.4" y2="677"/><line x1="1881.5" y1="641.64" x2="1871.4" y2="641.64"/><line x1="1881.5" y1="611.74" x2="1871.4" y2="611.74"/><line x1="1881.5" y1="585.85" x2="1871.4" y2="585.85"/><line x1="1881.5" y1="563" x2="1871.4" y2="563"/><line x1="1881.5" y1="989.14" x2="1860.5" y2="989.14"/><line x1="1881.5" y1="1301.28" x2="1871.4" y2="1301.28"/><line x1="1881.5" y1="1222.64" x2="1871.4" y2="1222.64"/><line x1="1881.5" y1="1166.85" x2="1871.4" y2="1166.85"/><line x1="1881.5" y1="1123.57" x2="1871.4" y2="1123.57"/><line x1="1881.5" y1="1088.21" x2="1871.4" y2="1088.21"/><line x1="1881.5" y1="1058.31" x2="1871.4" y2="1058.31"/><line x1="1881.5" y1="1032.42" x2="1871.4" y2="1032.42"/><line x1="1881.5" y1="1009.57" x2="1871.4" y2="1009.57"/><line x1="1881.5" y1="1435.71" x2="1860.5" y2="1435.71"/><line x1="1881.5" y1="1435.7" x2="1860.5" y2="1435.7"/><line x1="1881.5" y1="1238.9" x2="1871.4" y2="1238.9"/><line x1="1881.5" y1="1123.78" x2="1871.4" y2="1123.78"/><line x1="1881.5" y1="1042.1" x2="1871.4" y2="1042.1"/><line x1="1881.5" y1="978.75" x2="1871.4" y2="978.75"/><line x1="1881.5" y1="926.98" x2="1871.4" y2="926.98"/><line x1="1881.5" y1="883.22" x2="1871.4" y2="883.22"/><line x1="1881.5" y1="845.3" x2="1871.4" y2="845.3"/><line x1="1881.5" y1="811.86" x2="1871.4" y2="811.86"/><line x1="1881.5" y1="781.95" x2="1860.5" y2="781.95"/><line x1="1881.5" y1="585.15" x2="1871.4" y2="585.15"/><line x1="1881.5" y1="470.03" x2="1871.4" y2="470.03"/><line x1="1881.5" y1="388.35" x2="1871.4" y2="388.35"/><line x1="1881.5" y1="325" x2="1871.4" y2="325"/><line x1="1881.5" y1="273.23" x2="1871.4" y2="273.23"/><line x1="1881.5" y1="229.47" x2="1871.4" y2="229.47"/><line x1="1881.5" y1="191.55" x2="1871.4" y2="191.55"/><line x1="1881.5" y1="158.11" x2="1871.4" y2="158.11"/><line x1="1881.5" y1="128.2" x2="1860.5" y2="128.2"/></g><rect x="290.5" y="96" width="1591" height="1339.7" fill="none" stroke="#000" stroke-width="4.7"/><g stroke-width="9" stroke-linecap="round"><line x1="1200.4" y1="356.5" x2="1349.5" y2="356.5" stroke="#0000ff"/><line x1="1200.4" y1="446.8" x2="1349.5" y2="446.8" stroke="#ff0000"/></g><g fill="#000" style="font-kerning:none;font-feature-settings:'kern' 0"><text font-family="'Liberation Sans', Arial, Helvetica, sans-serif" font-size="76" transform="translate(228.88,1457.6) scale(0.8855,1)">0</text><text font-family="'Liberation Sans', Arial, Helvetica, sans-serif" font-size="76" transform="translate(191.46,1266.21) scale(0.8855,1)">50</text><text font-family="NanumGothic, 'Liberation Sans', Arial, sans-serif" font-size="71.31" transform="translate(148.99,1075.04) scale(1.0958,1)">1</text><text font-family="'Liberation Sans', Arial, Helvetica, sans-serif" font-size="76" transform="translate(190.16,1074.83) scale(0.8855,1)">00</text><text font-family="NanumGothic, 'Liberation Sans', Arial, sans-serif" font-size="71.31" transform="translate(148.99,883.66) scale(1.0958,1)">1</text><text font-family="'Liberation Sans', Arial, Helvetica, sans-serif" font-size="76" transform="translate(190.16,883.44) scale(0.8855,1)">50</text><text font-family="'Liberation Sans', Arial, Helvetica, sans-serif" font-size="76" transform="translate(152.75,692.06) scale(0.8855,1)">200</text><text font-family="'Liberation Sans', Arial, Helvetica, sans-serif" font-size="76" transform="translate(152.75,500.67) scale(0.8855,1)">250</text><text font-family="'Liberation Sans', Arial, Helvetica, sans-serif" font-size="76" transform="translate(152.75,309.29) scale(0.8855,1)">300</text><text font-family="'Liberation Sans', Arial, Helvetica, sans-serif" font-size="76" transform="translate(152.75,117.9) scale(0.8855,1)">350</text><text font-family="'Liberation Sans', Arial, Helvetica, sans-serif" font-size="76" transform="translate(271.79,1549.4) scale(0.8855,1)">0</text><text font-family="'Liberation Sans', Arial, Helvetica, sans-serif" font-size="76" transform="translate(430.89,1549.4) scale(0.8855,1)">2</text><text font-family="'Liberation Sans', Arial, Helvetica, sans-serif" font-size="76" transform="translate(589.99,1549.4) scale(0.8855,1)">4</text><text font-family="'Liberation Sans', Arial, Helvetica, sans-serif" font-size="76" transform="translate(749.09,1549.4) scale(0.8855,1)">6</text><text font-family="'Liberation Sans', Arial, Helvetica, sans-serif" font-size="76" transform="translate(908.19,1549.4) scale(0.8855,1)">8</text><text font-family="NanumGothic, 'Liberation Sans', Arial, sans-serif" font-size="71.31" transform="translate(1044.82,1549.61) scale(1.0958,1)">1</text><text font-family="'Liberation Sans', Arial, Helvetica, sans-serif" font-size="76" transform="translate(1086,1549.4) scale(0.8855,1)">0</text><text font-family="NanumGothic, 'Liberation Sans', Arial, sans-serif" font-size="71.31" transform="translate(1203.92,1549.61) scale(1.0958,1)">1</text><text font-family="'Liberation Sans', Arial, Helvetica, sans-serif" font-size="76" transform="translate(1245.1,1549.4) scale(0.8855,1)">2</text><text font-family="NanumGothic, 'Liberation Sans', Arial, sans-serif" font-size="71.31" transform="translate(1363.02,1549.61) scale(1.0958,1)">1</text><text font-family="'Liberation Sans', Arial, Helvetica, sans-serif" font-size="76" transform="translate(1404.2,1549.4) scale(0.8855,1)">4</text><text font-family="NanumGothic, 'Liberation Sans', Arial, sans-serif" font-size="71.31" transform="translate(1522.12,1549.61) scale(1.0958,1)">1</text><text font-family="'Liberation Sans', Arial, Helvetica, sans-serif" font-size="76" transform="translate(1563.3,1549.4) scale(0.8855,1)">6</text><text font-family="NanumGothic, 'Liberation Sans', Arial, sans-serif" font-size="71.31" transform="translate(1681.22,1549.61) scale(1.0958,1)">1</text><text font-family="'Liberation Sans', Arial, Helvetica, sans-serif" font-size="76" transform="translate(1722.4,1549.4) scale(0.8855,1)">8</text><text font-family="'Liberation Sans', Arial, Helvetica, sans-serif" font-size="76" transform="translate(1844.08,1549.4) scale(0.8855,1)">20</text><text font-family="NanumGothic, 'Liberation Sans', Arial, sans-serif" font-size="71.31" transform="translate(1902.04,123.21) scale(1.0958,1)">1</text><text font-family="'Liberation Sans', Arial, Helvetica, sans-serif" font-size="76" transform="translate(1943.22,123) scale(0.8855,1)">0</text><text font-family="'Liberation Sans', Arial, Helvetica, sans-serif" font-size="51.8" transform="translate(1980.64,93) scale(0.8855,1)">-4</text><text font-family="NanumGothic, 'Liberation Sans', Arial, sans-serif" font-size="71.31" transform="translate(1902.04,569.78) scale(1.0958,1)">1</text><text font-family="'Liberation Sans', Arial, Helvetica, sans-serif" font-size="76" transform="translate(1943.22,569.57) scale(0.8855,1)">0</text><text font-family="'Liberation Sans', Arial, Helvetica, sans-serif" font-size="51.8" transform="translate(1980.64,539.57) scale(0.8855,1)">-5</text><text font-family="NanumGothic, 'Liberation Sans', Arial, sans-serif" font-size="71.31" transform="translate(1902.04,1016.35) scale(1.0958,1)">1</text><text font-family="'Liberation Sans', Arial, Helvetica, sans-serif" font-size="76" transform="translate(1943.22,1016.14) scale(0.8855,1)">0</text><text font-family="'Liberation Sans', Arial, Helvetica, sans-serif" font-size="51.8" transform="translate(1980.64,986.14) scale(0.8855,1)">-6</text><text font-family="NanumGothic, 'Liberation Sans', Arial, sans-serif" font-size="71.31" transform="translate(1902.04,1462.92) scale(1.0958,1)">1</text><text font-family="'Liberation Sans', Arial, Helvetica, sans-serif" font-size="76" transform="translate(1943.22,1462.71) scale(0.8855,1)">0</text><text font-family="'Liberation Sans', Arial, Helvetica, sans-serif" font-size="51.8" transform="translate(1980.64,1432.71) scale(0.8855,1)">-7</text><text font-family="'Liberation Sans', Arial, Helvetica, sans-serif" font-size="75" transform="translate(1368.43,381.7) scale(0.8885,1)">Temperature</text><text font-family="'Liberation Sans', Arial, Helvetica, sans-serif" font-size="75" transform="translate(1367.02,471.5) scale(0.8912,1)">Pressure</text><text font-family="'Liberation Sans', Arial, Helvetica, sans-serif" font-size="75" transform="translate(998.62,1637.9) scale(0.8946,1)">Time (h)</text><text font-family="'Liberation Sans', Arial, Helvetica, sans-serif" font-size="72.67" transform="translate(90.7,995.2) rotate(-90) scale(1,0.9357)">Temperature (°C)</text><text font-family="'Liberation Sans', Arial, Helvetica, sans-serif" font-size="72.78" transform="translate(2130.9,935.97) rotate(-90) scale(1,0.9343)">Pressure (Pa)</text></g></svg></body></html>
